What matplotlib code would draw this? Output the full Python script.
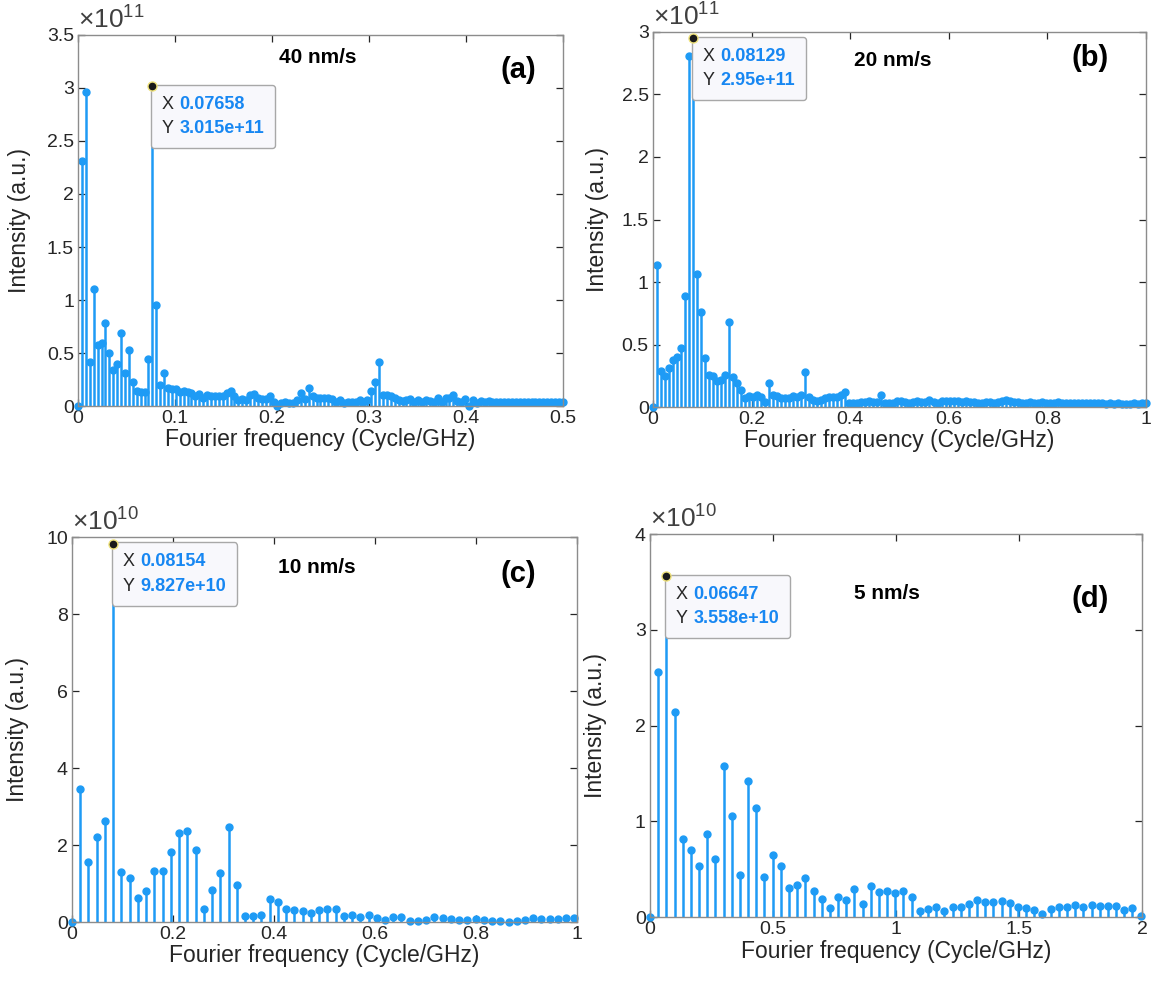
import numpy as np
import matplotlib.pyplot as plt
from matplotlib.ticker import FuncFormatter
from matplotlib.offsetbox import AnnotationBbox, TextArea, HPacker

plt.rcParams['font.family'] = ['Liberation Sans', 'DejaVu Sans']
plt.rcParams['mathtext.fontset'] = 'custom'
plt.rcParams['mathtext.rm'] = 'Liberation Sans'
plt.rcParams['mathtext.it'] = 'Liberation Sans:italic'

# -----------------------------
# data (frequency step in Cycle/GHz, intensities in units of 10^exp)
# -----------------------------
step_a = 0.0040305
vals_a = [0.0, 2.31, 2.96, 0.42, 1.10, 0.58, 0.59, 0.78, 0.50, 0.34,
          0.40, 0.69, 0.31, 0.53, 0.23, 0.14, 0.13, 0.135, 0.44, 3.015,
          0.95, 0.20, 0.31, 0.17, 0.16, 0.16, 0.13, 0.145, 0.13, 0.12,
          0.09, 0.11, 0.08, 0.10, 0.09, 0.09, 0.09, 0.09, 0.12, 0.145,
          0.09, 0.06, 0.07, 0.06, 0.10, 0.11, 0.08, 0.07, 0.07, 0.09,
          0.04, 0.0, 0.025, 0.04, 0.025, 0.025, 0.06, 0.12, 0.07, 0.17,
          0.09, 0.08, 0.08, 0.08, 0.08, 0.07, 0.04, 0.06, 0.025, 0.04,
          0.04, 0.04, 0.06, 0.04, 0.06, 0.145, 0.23, 0.42, 0.10, 0.10,
          0.09, 0.08, 0.06, 0.05, 0.06, 0.07, 0.04, 0.06, 0.04, 0.06,
          0.05, 0.04, 0.08, 0.04, 0.08, 0.08, 0.10, 0.05, 0.04, 0.07,
          0.0, 0.06, 0.03, 0.05, 0.04, 0.045, 0.04, 0.035, 0.04, 0.04,
          0.035, 0.04, 0.04, 0.035, 0.035, 0.04, 0.035, 0.035, 0.04, 0.035,
          0.04, 0.035, 0.04, 0.04, 0.04]

step_b = 0.008129
vals_b = [0.0, 1.14, 0.29, 0.245, 0.31, 0.38, 0.40, 0.47, 0.89, 2.81,
          2.95, 1.065, 0.76, 0.39, 0.26, 0.245, 0.21, 0.22, 0.26, 0.68,
          0.24, 0.19, 0.14, 0.07, 0.09, 0.08, 0.10, 0.08, 0.04, 0.19,
          0.10, 0.09, 0.07, 0.07, 0.07, 0.09, 0.08, 0.10, 0.28, 0.08,
          0.06, 0.05, 0.06, 0.07, 0.08, 0.08, 0.08, 0.10, 0.12, 0.03,
          0.03, 0.035, 0.04, 0.04, 0.05, 0.04, 0.04, 0.10, 0.03, 0.035,
          0.035, 0.05, 0.05, 0.04, 0.035, 0.04, 0.045, 0.04, 0.04, 0.055,
          0.04, 0.035, 0.045, 0.045, 0.05, 0.045, 0.045, 0.04, 0.045, 0.04,
          0.04, 0.035, 0.035, 0.04, 0.04, 0.035, 0.04, 0.045, 0.055, 0.045,
          0.04, 0.04, 0.035, 0.035, 0.04, 0.035, 0.035, 0.04, 0.035, 0.035,
          0.035, 0.04, 0.035, 0.035, 0.03, 0.035, 0.035, 0.03, 0.03, 0.03,
          0.035, 0.03, 0.03, 0.025, 0.03, 0.025, 0.03, 0.025, 0.025, 0.025,
          0.03, 0.025, 0.03, 0.03]

step_c = 0.016308
vals_c = [0.0, 3.45, 1.56, 2.21, 2.62, 9.827, 1.30, 1.13, 0.62, 0.81,
          1.32, 1.32, 1.81, 2.31, 2.37, 1.86, 0.34, 0.82, 1.27, 2.47,
          0.96, 0.15, 0.15, 0.19, 0.60, 0.52, 0.35, 0.32, 0.28, 0.23,
          0.30, 0.34, 0.33, 0.16, 0.19, 0.14, 0.18, 0.11, 0.05, 0.14,
          0.13, 0.03, 0.03, 0.06, 0.14, 0.11, 0.09, 0.06, 0.06, 0.07,
          0.04, 0.03, 0.02, 0.01, 0.03, 0.04, 0.10, 0.09, 0.08, 0.07,
          0.10, 0.10]

step_d = 0.033235
vals_d = [0.0, 2.56, 3.558, 2.14, 0.82, 0.70, 0.53, 0.87, 0.61, 1.58,
          1.06, 0.44, 1.42, 1.14, 0.42, 0.65, 0.53, 0.30, 0.33, 0.41,
          0.27, 0.19, 0.09, 0.21, 0.18, 0.29, 0.14, 0.32, 0.26, 0.27,
          0.25, 0.27, 0.21, 0.06, 0.08, 0.10, 0.06, 0.10, 0.11, 0.14,
          0.18, 0.16, 0.16, 0.17, 0.15, 0.11, 0.09, 0.07, 0.03, 0.08,
          0.10, 0.10, 0.13, 0.11, 0.13, 0.12, 0.12, 0.12, 0.07, 0.09,
          0.01]

panels = [
    dict(step=step_a, vals=vals_a, exp=11, xlim=(0, 0.5), xticks=[0, 0.1, 0.2, 0.3, 0.4, 0.5],
         ylim=(0, 3.5), yticks=[0, 0.5, 1, 1.5, 2, 2.5, 3, 3.5], peak=19,
         speed="40 nm/s", letter="(a)", rect=[0.0674, 0.5911, 0.4188, 0.3737],
         spos=(0.495, 0.94), lpos=(0.907, 0.905), ylab_x=-0.12, xlab_y=-0.09),
    dict(step=step_b, vals=vals_b, exp=11, xlim=(0, 1), xticks=[0, 0.2, 0.4, 0.6, 0.8, 1],
         ylim=(0, 3), yticks=[0, 0.5, 1, 1.5, 2, 2.5, 3], peak=10,
         speed="20 nm/s", letter="(b)", rect=[0.5639, 0.5901, 0.4257, 0.3777],
         spos=(0.487, 0.925), lpos=(0.886, 0.93), ylab_x=-0.112, xlab_y=-0.09),
    dict(step=step_c, vals=vals_c, exp=10, xlim=(0, 1), xticks=[0, 0.2, 0.4, 0.6, 0.8, 1],
         ylim=(0, 10), yticks=[0, 2, 4, 6, 8, 10], peak=5,
         speed="10 nm/s", letter="(c)", rect=[0.0622, 0.0715, 0.4361, 0.3877],
         spos=(0.485, 0.92), lpos=(0.883, 0.904), ylab_x=-0.107, xlab_y=-0.086),
    dict(step=step_d, vals=vals_d, exp=10, xlim=(0, 2), xticks=[0, 0.5, 1, 1.5, 2],
         ylim=(0, 4), yticks=[0, 1, 2, 3, 4], peak=2,
         speed="5 nm/s", letter="(d)", rect=[0.5613, 0.0765, 0.4249, 0.3857],
         spos=(0.482, 0.846), lpos=(0.894, 0.83), ylab_x=-0.11, xlab_y=-0.09),
]

stem_color = "#1e9bf5"
tip_blue = "#1787f2"
txt_color = "#262626"
fmt = FuncFormatter(lambda v, p: f"{v:g}")

fig = plt.figure(figsize=(11.58, 9.93), dpi=100)

for p in panels:
    ax = fig.add_axes(p["rect"])
    y = np.array(p["vals"])
    x = np.arange(len(y)) * p["step"]

    markerline, stemlines, baseline = ax.stem(x, y, basefmt=" ")
    stemlines.set_color(stem_color)
    stemlines.set_linewidth(1.8)
    markerline.set_color(stem_color)
    markerline.set_markersize(5)
    markerline.set_clip_on(False)

    # data tip on the peak
    pk = p["peak"]
    ax.plot(x[pk], y[pk], "o", mfc="#1a1a1a", mec="#efe27a", ms=6.5, mew=1,
            zorder=8, clip_on=False)
    xs = f"{x[pk]:.4g}"
    ys = f"{y[pk] * 10 ** p['exp']:.4g}"
    lab = TextArea("X\nY", textprops=dict(fontsize=13, color=txt_color, linespacing=1.55))
    val = TextArea(f"{xs}\n{ys}", textprops=dict(fontsize=13, color=tip_blue,
                                                fontweight="bold", linespacing=1.55))
    pack = HPacker(children=[lab, val], sep=4, pad=5, align="top")
    tip = AnnotationBbox(pack, (x[pk], y[pk]), xybox=(2, -2), xycoords="data",
                         boxcoords="offset points", box_alignment=(0, 1),
                         pad=0.3, frameon=True, zorder=7,
                         bboxprops=dict(boxstyle="round,pad=0.3,rounding_size=0.25",
                                        fc="#f8f8fc", ec="#a8a8a8", lw=1))
    ax.add_artist(tip)

    ax.set_xlim(*p["xlim"])
    ax.set_ylim(*p["ylim"])
    ax.set_xticks(p["xticks"])
    ax.set_yticks(p["yticks"])
    ax.xaxis.set_major_formatter(fmt)
    ax.yaxis.set_major_formatter(fmt)
    ax.tick_params(direction="in", top=True, right=True, length=5, width=0.9,
                   labelsize=14, colors=txt_color, pad=3)
    for s in ax.spines.values():
        s.set_color("#8c8c8c")
        s.set_linewidth(1.0)

    ax.set_xlabel("Fourier frequency (Cycle/GHz)", fontsize=16.5, color=txt_color)
    ax.set_ylabel("Intensity (a.u.)", fontsize=16.5, color=txt_color)
    ax.xaxis.label.set_va("center")
    ax.yaxis.label.set_va("center")
    ax.xaxis.set_label_coords(0.5, p["xlab_y"])
    ax.yaxis.set_label_coords(p["ylab_x"], 0.5)

    ax.text(0.0, 1.004, "×10$^{%d}$" % p["exp"], transform=ax.transAxes,
            ha="left", va="bottom", fontsize=19, color="#404040")
    ax.text(*p["spos"], p["speed"], transform=ax.transAxes, ha="center",
            va="center", fontsize=15, fontweight="bold", color="black")
    ax.text(*p["lpos"], p["letter"], transform=ax.transAxes, ha="center",
            va="center", fontsize=21, fontweight="bold", color="black")

fig.savefig("out.png", dpi=100)
